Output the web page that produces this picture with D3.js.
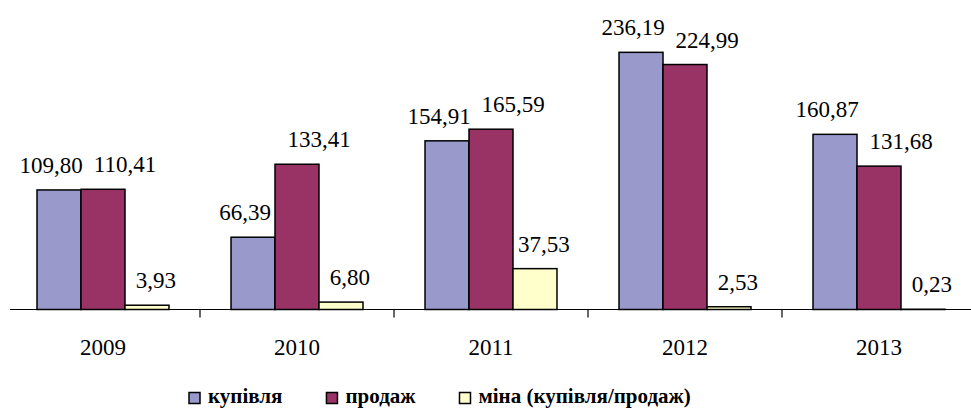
<!DOCTYPE html>
<html>
  <head>
    <meta charset="utf-8">
  </head>
  <body style="margin:0;background:#fff">
    <script src="https://d3js.org/d3.v7.min.js"></script>
    <svg width="971" height="412"></svg>
    <script>
      // Data
      const years = ["2009", "2010", "2011", "2012", "2013"];
      const seriesNames = ["купівля", "продаж", "міна (купівля/продаж)"];
      const purchase = [109.80, 66.39, 154.91, 236.19, 160.87];
      const sale = [110.41, 133.41, 165.59, 224.99, 131.68];
      const exchange = [3.93, 6.80, 37.53, 2.53, 0.23];

      const colors = ["#9999cc", "#993366", "#ffffcc"];
      // label nudges per series (Excel labels sit off-centre)
      const labelDx = [-8, 22, 9];
      const fontFam = "Liberation Serif";

      const width = 971, height = 412;
      const baseY = 309.5;

      const svg = d3.select("svg");

      const rows = years.map((yr, i) => ({
        year: yr,
        values: [purchase[i], sale[i], exchange[i]]
      }));

      const x0 = d3.scaleBand().domain(years).range([6, 976]);
      const x1 = d3.scaleBand().domain([0, 1, 2]).range([0, x0.bandwidth()]).paddingOuter(0.705);
      const y = d3.scaleLinear().domain([0, 250]).range([baseY, baseY - 272.2]);

      // bars
      const groups = svg.selectAll(".grp")
        .data(rows)
        .enter()
        .append("g")
        .attr("class", "grp")
        .attr("transform", d => `translate(${x0(d.year)},0)`);

      groups.selectAll("rect")
        .data(d => d.values.map((v, k) => ({ v, k })))
        .enter()
        .append("rect")
        .attr("x", d => x1(d.k))
        .attr("width", x1.bandwidth())
        .attr("y", d => y(d.v))
        .attr("height", d => Math.max(0, baseY - y(d.v)))
        .attr("fill", d => colors[d.k])
        .attr("stroke", "#000")
        .attr("stroke-width", 1.5);

      groups.selectAll(".value-label")
        .data(d => d.values.map((v, k) => ({ v, k })))
        .enter()
        .append("text")
        .attr("class", "value-label")
        .attr("font-family", fontFam)
        .attr("font-size", 23)
        .attr("text-anchor", "middle")
        .attr("x", d => x1(d.k) + x1.bandwidth() / 2 + labelDx[d.k])
        .attr("y", d => y(d.v) - 17)
        .text(d => d.v.toFixed(2).replace(".", ","));

      // x axis line and ticks between categories
      svg.append("line")
        .attr("x1", 10).attr("x2", width)
        .attr("y1", baseY).attr("y2", baseY)
        .attr("stroke", "#000").attr("stroke-width", 1.2);

      svg.selectAll(".tick")
        .data(years.slice(1))
        .enter()
        .append("line")
        .attr("class", "tick")
        .attr("x1", d => x0(d)).attr("x2", d => x0(d))
        .attr("y1", baseY).attr("y2", baseY + 8)
        .attr("stroke", "#000").attr("stroke-width", 1.2);

      svg.selectAll(".year-label")
        .data(years)
        .enter()
        .append("text")
        .attr("class", "year-label")
        .attr("font-family", fontFam)
        .attr("font-size", 23)
        .attr("text-anchor", "middle")
        .attr("x", d => x0(d) + x0.bandwidth() / 2)
        .attr("y", 355)
        .text(d => d);

      // legend
      let lx = 189;
      seriesNames.forEach((name, k) => {
        svg.append("rect")
          .attr("x", lx).attr("y", 392.5)
          .attr("width", 11).attr("height", 11)
          .attr("fill", colors[k])
          .attr("stroke", "#000").attr("stroke-width", 1.5);
        const t = svg.append("text")
          .attr("font-family", fontFam)
          .attr("font-size", 21)
          .attr("font-weight", "bold")
          .attr("x", lx + 19)
          .attr("y", 403)
          .text(name);
        lx += 19 + t.node().getComputedTextLength() + 44;
      });
    </script>
  </body>
</html>
